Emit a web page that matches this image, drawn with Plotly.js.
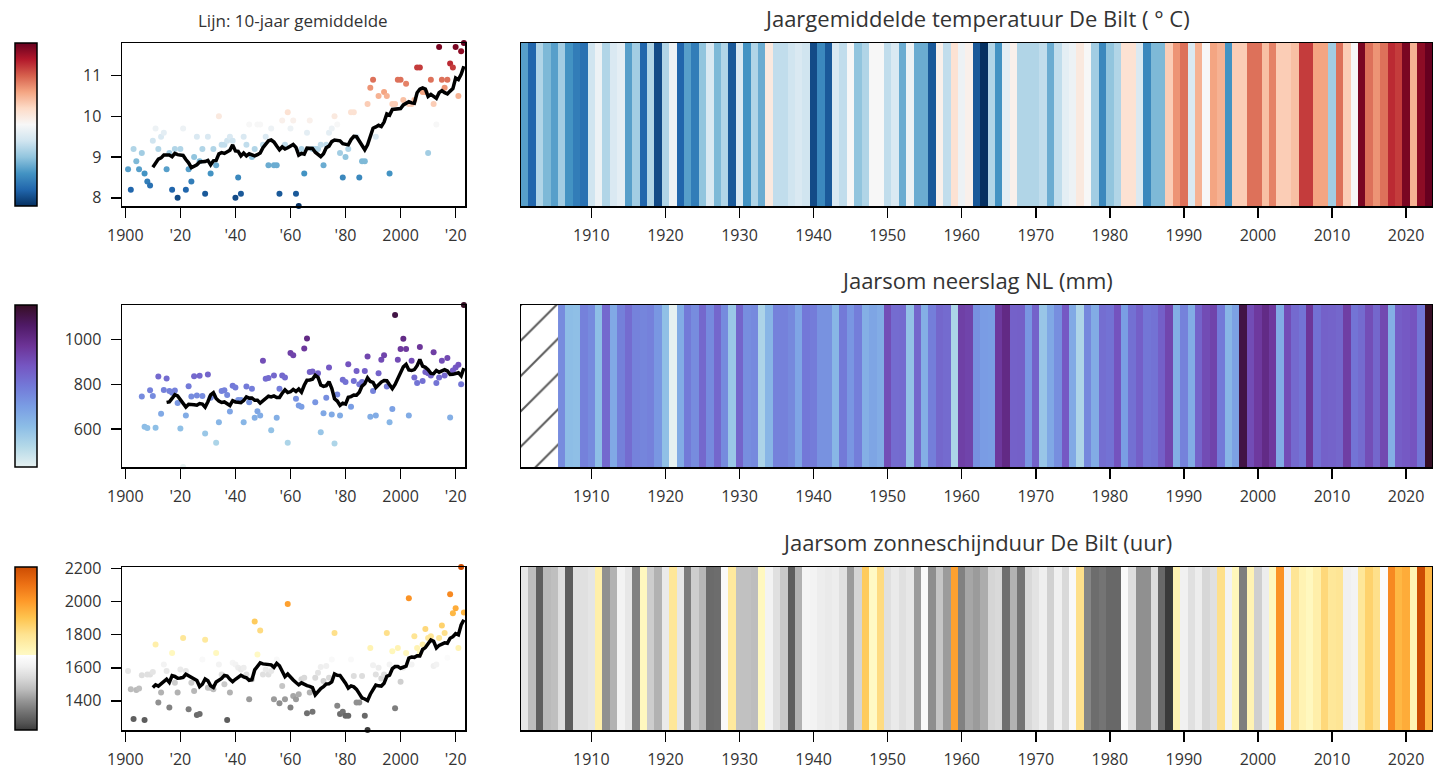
<!DOCTYPE html>
<html><head><meta charset="utf-8">
<script src="https://cdn.plot.ly/plotly-3.0.1.min.js"></script>
<style>html,body{margin:0;padding:0;background:#fff}#chart{width:1433px;height:769px}</style>
</head><body><div id="chart"></div>
<script>
const FIRST_YEAR = 1901, LAST_YEAR = 2023;
const years = [];
for (let y = FIRST_YEAR; y <= LAST_YEAR; y++) years.push(y);

// Jaargemiddelde temperatuur De Bilt (°C), 1901-2023
const temperature = [
  8.7, 8.2, 9.2, 8.9, 8.7, 9.1, 8.6, 8.4, 8.3, 9.4,
  9.7, 9.2, 9.5, 9.6, 8.7, 9.1, 8.2, 9.2, 8.0, 9.2,
  9.7, 8.2, 8.7, 8.4, 9.0, 9.5, 8.9, 9.2, 8.1, 9.5,
  8.6, 9.2, 8.8, 10.0, 9.3, 9.3, 9.4, 9.5, 9.4, 8.0,
  8.5, 8.1, 9.5, 9.3, 9.8, 9.0, 9.2, 9.8, 9.8, 9.3,
  9.5, 8.8, 9.7, 8.8, 8.8, 8.1, 9.9, 9.3, 10.1, 9.7,
  9.9, 8.1, 7.8, 9.2, 8.6, 9.6, 9.9, 9.2, 9.2, 9.2,
  9.3, 8.8, 9.3, 9.6, 9.7, 10.0, 9.8, 9.1, 8.5, 9.0,
  9.2, 10.1, 10.1, 9.5, 8.5, 8.9, 8.9, 10.3, 10.7, 10.9,
  9.5, 10.5, 9.8, 10.6, 10.5, 8.6, 10.3, 10.3, 10.9, 10.9,
  10.4, 10.8, 10.3, 10.3, 10.4, 11.2, 11.2, 10.6, 10.6, 9.1,
  10.9, 10.3, 9.8, 11.7, 10.9, 10.7, 10.9, 11.3, 11.2, 11.7,
  10.5, 11.6, 11.8
];

// Jaarsom neerslag NL (mm), 1901-2023 (no data 1901-1905)
const precipitation = [
  null, null, null, null, null, 745, 610, 605, 773, 748,
  606, 835, 668, 775, 826, 770, 762, 772, 716, 602,
  430, 660, 791, 745, 836, 750, 838, 748, 580, 844,
  740, 750, 538, 630, 770, 773, 752, 678, 794, 786,
  730, 730, 630, 790, 720, 780, 650, 680, 660, 905,
  825, 828, 595, 840, 650, 780, 840, 830, 538, 940,
  930, 735, 705, 700, 960, 1005, 855, 857, 720, 850,
  585, 670, 740, 875, 665, 535, 755, 660, 820, 810,
  890, 700, 815, 860, 800, 810, 860, 925, 655, 770,
  660, 850, 910, 930, 790, 630, 690, 1110, 910, 958,
  1004, 958, 660, 906, 831, 806, 967, 815, 855, 850,
  840, 944, 806, 830, 905, 840, 918, 651, 862, 875,
  888, 800, 1155
];

// Jaarsom zonneschijnduur De Bilt (uur), 1901-2023
const sunshine = [
  1580, 1470, 1290, 1465, 1475, 1555, 1285, 1560, 1560, 1575,
  1740, 1390, 1450, 1620, 1580, 1360, 1690, 1510, 1450, 1590,
  1780, 1580, 1350, 1510, 1460, 1315, 1320, 1650, 1770, 1480,
  1480, 1470, 1690, 1620, 1560, 1500, 1285, 1450, 1630, 1620,
  1600, 1590, 1600, 1560, 1410, 1530, 1880, 1680, 1825, 1560,
  1590, 1560, 1580, 1410, 1650, 1385, 1490, 1410, 1985, 1360,
  1430, 1410, 1440, 1530, 1540, 1325, 1450, 1335, 1540, 1570,
  1605, 1520, 1610, 1540, 1650, 1810, 1370, 1320, 1335, 1310,
  1310, 1650, 1550, 1390, 1390, 1550, 1310, 1224, 1720, 1615,
  1560, 1600, 1535, 1560, 1810, 1620, 1700, 1355, 1720, 1515,
  1600, 1690, 2020, 1620, 1790, 1720, 1690, 1740, 1835, 1780,
  1790, 1610, 1620, 1780, 1855, 1810, 1660, 2045, 1930, 1960,
  1720, 2209, 1934
];

const scatterTickVals = [1900, 1920, 1940, 1960, 1980, 2000, 2020];
const scatterTickText = ['1900', "'20", "'40", "'60", "'80", '2000', "'20"];
const stripeTickVals = [1910, 1920, 1930, 1940, 1950, 1960, 1970, 1980, 1990, 2000, 2010, 2020];
const tempTicks = [8, 9, 10, 11];
const precTicks = [600, 800, 1000];
const sunTicks = [1400, 1600, 1800, 2000, 2200];
const rowTitles = ['Jaargemiddelde temperatuur De Bilt ( ° C)', 'Jaarsom neerslag NL (mm)', 'Jaarsom zonneschijnduur De Bilt (uur)'];
const subTitle = 'Lijn: 10-jaar gemiddelde';
const WINDOW = 10;

const tempScale = [[0,'#053061'],[0.1,'#2166ac'],[0.2,'#4393c3'],[0.3,'#92c5de'],[0.4,'#d1e5f0'],[0.5,'#f7f7f7'],[0.6,'#fddbc7'],[0.7,'#f4a582'],[0.8,'#d6604d'],[0.9,'#b2182b'],[1,'#67001f']];
const precScale = [[0,'#e6f1f1'],[0.125,'#b4d9e8'],[0.25,'#8cbde6'],[0.375,'#7a9de4'],[0.5,'#7379d8'],[0.625,'#7556c2'],[0.75,'#6c3396'],[0.875,'#4f1a66'],[1,'#360e24']];
const sunScale = [[0,'#3a3a3a'],[0.039,'#525252'],[0.110,'#737373'],[0.180,'#969696'],[0.250,'#bdbdbd'],[0.320,'#d9d9d9'],[0.390,'#f0f0f0'],[0.46,'#ffffff'],[0.4601,'#fff9c5'],[0.481,'#fff7bc'],[0.585,'#fee391'],[0.688,'#fec44f'],[0.792,'#fe9929'],[0.896,'#ec7014'],[1,'#cc4c02']];

const W = 1433, H = 769;
const fx = p => p / W;
const fy = p => 1 - p / H;
const rowTop = [43, 305, 567], rowBot = [206, 467, 730];
const SC_L = 122, SC_R = 465, ST_L = 521, ST_R = 1432;
const FONT = 'Open Sans, Noto Sans, sans-serif';
const TXT = '#333333';

function rolling(vals, n) {
  return vals.map((v, i) => {
    if (i < n - 1) return null;
    const win = vals.slice(i - n + 1, i + 1);
    if (win.some(x => x == null)) return null;
    return win.reduce((a, b) => a + b, 0) / n;
  });
}

const series = [
  {vals: temperature, scale: tempScale, ticks: tempTicks},
  {vals: precipitation, scale: precScale, ticks: precTicks},
  {vals: sunshine, scale: sunScale, ticks: sunTicks}
];

const traces = [];
const layout = {
  width: W, height: H, autosize: false,
  margin: {l: 0, r: 0, t: 0, b: 0},
  paper_bgcolor: '#fff', plot_bgcolor: '#fff',
  showlegend: false,
  font: {family: FONT, color: TXT},
  annotations: []
};
const frame = {showline: true, linecolor: '#000', linewidth: 1.5, mirror: true, showgrid: false, zeroline: false, fixedrange: true};

series.forEach((s, r) => {
  const valid = s.vals.filter(v => v != null);
  const vmin = Math.min(...valid), vmax = Math.max(...valid);
  const xs = [], ys = [];
  years.forEach((y, i) => { if (s.vals[i] != null) { xs.push(y); ys.push(s.vals[i]); } });
  const sa = 2 * r + 1, st = 2 * r + 2;
  const ydom = [fy(rowBot[r]), fy(rowTop[r])];

  traces.push({
    type: 'scatter', mode: 'markers', x: xs, y: ys,
    xaxis: 'x' + sa, yaxis: 'y' + sa, hoverinfo: 'skip', cliponaxis: false,
    marker: {
      size: 6, color: ys, colorscale: s.scale, cmin: vmin, cmax: vmax, line: {width: 0},
      showscale: true,
      colorbar: {
        x: fx(15), xanchor: 'left', xpad: 0, ypad: 0,
        y: (ydom[0] + ydom[1]) / 2, yanchor: 'middle',
        len: rowBot[r] - rowTop[r], lenmode: 'pixels',
        thickness: 22, thicknessmode: 'pixels',
        outlinewidth: 1.5, outlinecolor: '#000',
        showticklabels: false, ticks: ''
      }
    }
  });
  traces.push({
    type: 'scatter', mode: 'lines', x: years, y: rolling(s.vals, WINDOW),
    xaxis: 'x' + sa, yaxis: 'y' + sa, hoverinfo: 'skip',
    line: {color: '#000', width: 3.5}, connectgaps: false
  });
  traces.push({
    type: 'heatmap', x: years, y: [0], z: [s.vals],
    xaxis: 'x' + st, yaxis: 'y' + st,
    colorscale: s.scale, zmin: vmin, zmax: vmax, showscale: false, hoverinfo: 'skip'
  });
  const missing = years.filter((y, i) => s.vals[i] == null);
  if (missing.length) {
    const c = (Math.min(...missing) + Math.max(...missing)) / 2;
    traces.push({
      type: 'bar', x: [c], y: [1], base: [-0.5], width: [missing.length],
      xaxis: 'x' + st, yaxis: 'y' + st, hoverinfo: 'skip',
      marker: {color: '#fff', line: {width: 0},
        pattern: {shape: '/', fgcolor: '#5a5a5a', bgcolor: '#fff', size: 25, solidity: 0.08}}
    });
  }

  layout['xaxis' + (sa === 1 ? '' : sa)] = Object.assign({}, frame, {
    domain: [fx(SC_L), fx(SC_R)], anchor: 'y' + sa, range: [1898.8, 2023.4],
    tickmode: 'array', tickvals: scatterTickVals, ticktext: scatterTickText,
    ticks: 'outside', ticklen: 10, tickwidth: 1.5, tickcolor: '#000',
    tickfont: {size: 16, color: TXT, family: FONT}, ticklabelstandoff: 4
  });
  layout['yaxis' + sa] = Object.assign({}, frame, {
    domain: ydom, anchor: 'x' + sa, range: [vmin, vmax],
    tickmode: 'array', tickvals: s.ticks,
    ticks: 'outside', ticklen: 10, tickwidth: 1.5, tickcolor: '#000',
    tickfont: {size: 16, color: TXT, family: FONT}, ticklabelstandoff: 6
  });
  layout['xaxis' + st] = Object.assign({}, frame, {
    domain: [fx(ST_L), fx(ST_R)], anchor: 'y' + st, range: [FIRST_YEAR - 0.5, LAST_YEAR + 0.5],
    tickmode: 'array', tickvals: stripeTickVals,
    ticks: 'outside', ticklen: 10, tickwidth: 1.5, tickcolor: '#000',
    tickfont: {size: 16, color: TXT, family: FONT}, ticklabelstandoff: 4
  });
  layout['yaxis' + st] = Object.assign({}, frame, {
    domain: ydom, anchor: 'x' + st, range: [-0.5, 0.5],
    showticklabels: false, ticks: ''
  });
  layout.annotations.push({
    xref: 'paper', yref: 'paper', x: fx((ST_L + ST_R) / 2), y: fy(rowTop[r] - 25),
    xanchor: 'center', yanchor: 'middle', showarrow: false,
    text: rowTitles[r], font: {size: 22, color: TXT, family: FONT}
  });
});
layout.annotations.push({
  xref: 'paper', yref: 'paper', x: fx((SC_L + SC_R) / 2 - 1), y: fy(20),
  xanchor: 'center', yanchor: 'middle', showarrow: false,
  text: subTitle, font: {size: 17, color: TXT, family: FONT}
});

Plotly.newPlot('chart', traces, layout, {displayModeBar: false, staticPlot: true});
</script>
</body></html>
